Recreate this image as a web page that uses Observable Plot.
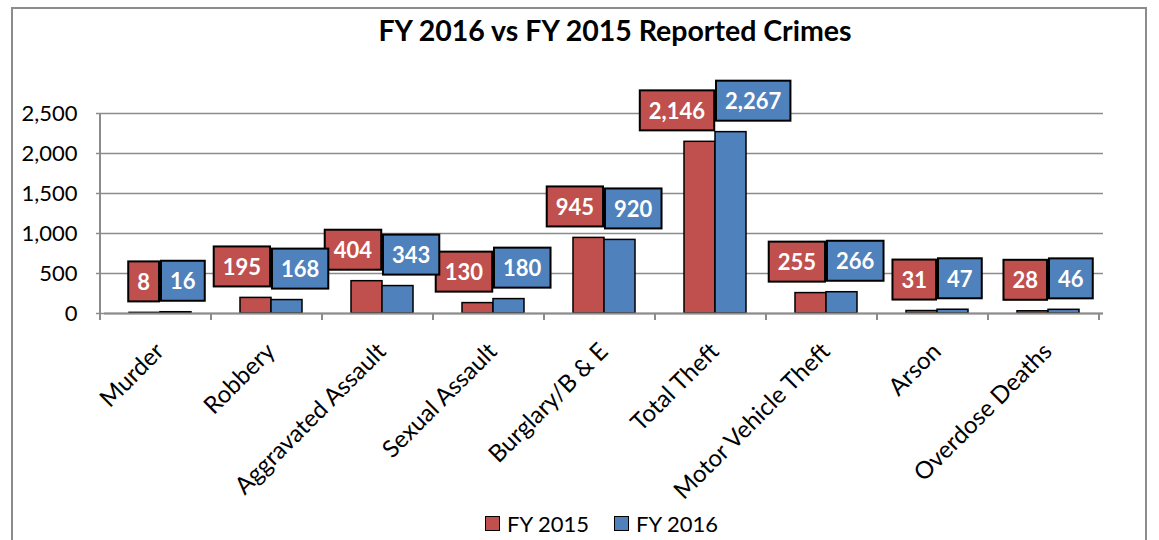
<!DOCTYPE html>
<html>
<head>
<meta charset="utf-8">
<script src="https://cdn.jsdelivr.net/npm/d3@7"></script>
<script src="https://cdn.jsdelivr.net/npm/@observablehq/plot@0.6"></script>
<style>
  html, body { margin: 0; padding: 0; background: #fff; overflow: hidden; }
  #wrap { position: relative; width: 1159px; height: 540px; font-family: Lato, "Open Sans", sans-serif; }
  #border { position: absolute; left: 11px; top: 7px; width: 1136px; height: 600px; border: 2px solid #8c8c8c; box-sizing: border-box; }
  #title { position: absolute; left: 115px; width: 1000px; top: 13px; text-align: center; font-weight: bold; font-size: 28.5px; color: #000; }
  #chart { position: absolute; left: 0; top: 0; }
  #legend { position: absolute; top: 510px; left: 485px; display: flex; align-items: center; font-size: 22px; color: #000; }
  .sw { width: 13px; height: 13px; border: 1.5px solid #000; display: inline-block; margin-right: 7px; }
  .item { display: flex; align-items: center; margin-right: 25px; }
</style>
</head>
<body>
<div id="wrap">
  <div id="border"></div>
  <div id="chart"></div>
  <div id="title">FY 2016 vs FY 2015 Reported Crimes</div>
  <div id="legend"></div>
</div>
<script>
const categories = ["Murder", "Robbery", "Aggravated Assault", "Sexual Assault", "Burglary/B & E", "Total Theft", "Motor Vehicle Theft", "Arson", "Overdose Deaths"];
const fy2015 = [8, 195, 404, 130, 945, 2146, 255, 31, 28];
const fy2016 = [16, 168, 343, 180, 920, 2267, 266, 47, 46];
const seriesNames = ["FY 2015", "FY 2016"];
const seriesColors = ["#C0504D", "#4F81BD"];
const yTicks = [0, 500, 1000, 1500, 2000, 2500];

const data = [];
categories.forEach((c, i) => {
  data.push({category: c, series: seriesNames[0], value: fy2015[i]});
  data.push({category: c, series: seriesNames[1], value: fy2016[i]});
});
const fmt = d3.format(",");
const gray = "#8c8c8c";

const plot = Plot.plot({
  width: 1159,
  height: 540,
  marginLeft: 100,
  marginRight: 53,
  marginTop: 113,
  marginBottom: 227,
  style: {fontFamily: "Lato, 'Open Sans', sans-serif", fontSize: "22px", background: "transparent", color: "#000"},
  fx: {domain: categories, padding: 0, label: null},
  x: {domain: seriesNames, paddingInner: 0, paddingOuter: 0.75, axis: null},
  y: {domain: [0, 2500], label: null},
  color: {domain: seriesNames, range: seriesColors},
  marks: [
    Plot.gridY(yTicks, {stroke: gray, strokeOpacity: 1, strokeWidth: 1.5}),
    Plot.axisY(yTicks, {tickSize: 8, tickPadding: 19, tickFormat: fmt, stroke: gray, strokeWidth: 1.5, fontSize: 22, label: null}),
    Plot.axisFx({anchor: "bottom", tickRotate: -45, tickSize: 0, tickPadding: 34, fontSize: 24, label: null}),
    Plot.barY(data, {fx: "category", x: "series", y: "value", fill: "series", stroke: "#000", strokeWidth: 1.5}),
    Plot.ruleY([0], {stroke: gray, strokeWidth: 2}),
    Plot.text(data.filter(d => d.series === seriesNames[0]), {fx: "category", y: "value", text: d => fmt(d.value), frameAnchor: "middle", textAnchor: "end", lineAnchor: "middle", dx: -10, dy: -30, fill: "#fff", fontWeight: "bold", fontSize: 22, ariaDescription: "lbl-0"}),
    Plot.text(data.filter(d => d.series === seriesNames[1]), {fx: "category", y: "value", text: d => fmt(d.value), frameAnchor: "middle", textAnchor: "start", lineAnchor: "middle", dx: 10, dy: -30, fill: "#fff", fontWeight: "bold", fontSize: 22, ariaDescription: "lbl-1"})
  ]
});
document.getElementById("chart").appendChild(plot);

// label boxes behind the value labels
[0, 1].forEach(k => {
  d3.select(plot).selectAll(`g[aria-description="lbl-${k}"] text`).each(function() {
    const b = this.getBBox();
    const r = document.createElementNS("http://www.w3.org/2000/svg", "rect");
    const h = 40, padX = 9;
    r.setAttribute("x", b.x - padX);
    r.setAttribute("y", b.y + b.height / 2 - h / 2);
    r.setAttribute("width", b.width + 2 * padX);
    r.setAttribute("height", h);
    r.setAttribute("fill", seriesColors[k]);
    r.setAttribute("stroke", "#000");
    r.setAttribute("stroke-width", 2);
    const t = this.getAttribute("transform");
    if (t) r.setAttribute("transform", t);
    this.parentNode.insertBefore(r, this);
  });
});

// category boundary ticks and left axis line, from Plot's own scales
const fxS = plot.scale("fx");
const yS = plot.scale("y");
const y0 = yS.apply(0), yTop = yS.apply(2500);
const x0 = fxS.range[0];
const svg = d3.select(plot);
const g = svg.append("g").attr("stroke", gray).attr("stroke-width", 2);
for (let i = 0; i <= categories.length; i++) {
  const bx = x0 + i * fxS.step;
  g.append("line").attr("x1", bx).attr("x2", bx).attr("y1", y0).attr("y2", y0 + 7);
}
g.append("line").attr("x1", x0).attr("x2", x0).attr("y1", yTop).attr("y2", y0);

// legend
const legend = d3.select("#legend");
seriesNames.forEach((s, i) => {
  const it = legend.append("div").attr("class", "item");
  it.append("span").attr("class", "sw").style("background", seriesColors[i]);
  it.append("span").text(s);
});
</script>
</body>
</html>
